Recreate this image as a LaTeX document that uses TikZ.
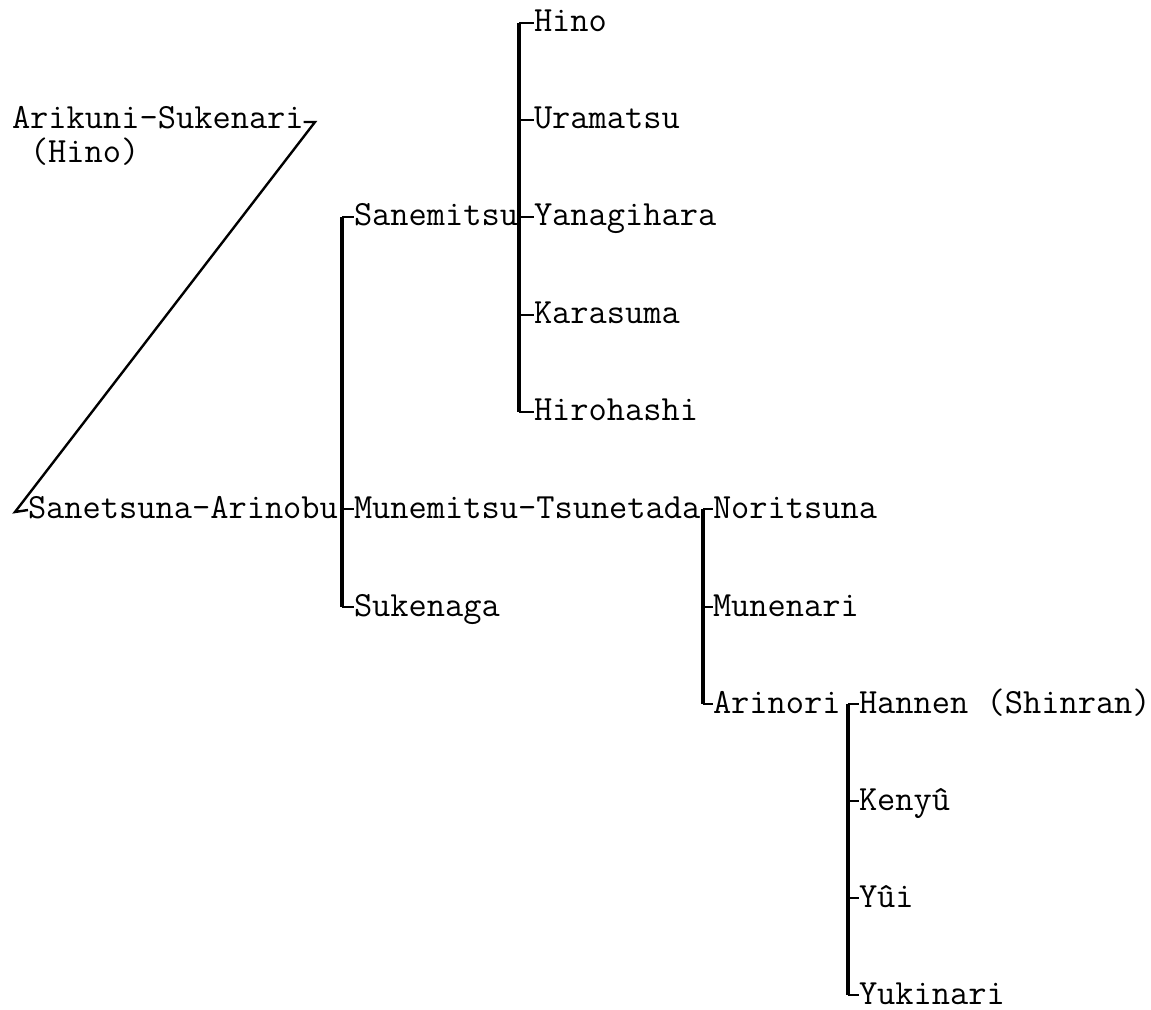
\documentclass[tikz,border=0pt]{standalone}
\usepackage{fontspec}
\begin{document}
\begin{tikzpicture}[x=0.5pt,y=-0.5pt,
  person/.style={anchor=base west,inner sep=0pt,outer sep=0pt,font=\ttfamily\fontsize{17.7}{20}\selectfont},
  bar/.style={line width=1.6pt},
  tick/.style={line width=1pt},
  diag/.style={line width=1.2pt,line join=miter}]
\useasboundingbox (0,0) rectangle (1151,1010);
% rows: 23,120,217,315,412,509,607,704,801,898,995 ; baseline = row+9
\node[person] (arikuni)   at (12,129)  {Arikuni-Sukenari};
\node[person] (hinoA)     at (30,163)  {(Hino)};
\node[person] (sanetsuna) at (28,518)  {Sanetsuna-Arinobu};
% generation A
\node[person] (sanemitsu) at (354,226) {Sanemitsu};
\node[person] (munemitsu) at (354,518) {Munemitsu-Tsunetada};
\node[person] (sukenaga)  at (354,616) {Sukenaga};
% generation B
\node[person] (hino)       at (534,32)  {Hino};
\node[person] (uramatsu)   at (534,129) {Uramatsu};
\node[person] (yanagihara) at (534,226) {Yanagihara};
\node[person] (karasuma)   at (534,324) {Karasuma};
\node[person] (hirohashi)  at (534,421) {Hirohashi};
% generation C
\node[person] (noritsuna) at (713,518) {Noritsuna};
\node[person] (munenari)  at (713,616) {Munenari};
\node[person] (arinori)   at (713,713) {Arinori};
% generation D
\node[person] (hannen)   at (859,713)  {Hannen (Shinran)};
\node[person] (kenyu)    at (859,810)  {Kenyû};
\node[person] (yui)      at (859,907)  {Yûi};
\node[person] (yukinari) at (859,1004) {Yukinari};

% link Arikuni -> Sanetsuna
\coordinate (dtop) at (315,122);
\coordinate (dbot) at (15,512);
\draw[diag] ([shift={(0,-7)}]arikuni.base east) -- (dtop) -- (dbot) -- ([shift={(0,-8)}]sanetsuna.base west);

% bar A (children of Arinobu)
\draw[bar] ([shift={(-12,-9)}]sanemitsu.base west) -- ([shift={(-12,-9)}]sukenaga.base west);
\foreach \n in {sanemitsu,munemitsu,sukenaga}
  \draw[tick] ([shift={(-12,-9)}]\n.base west) -- ([shift={(0,-9)}]\n.base west);
% bar B (children of Sanemitsu)
\draw[bar] ([shift={(-15,-9)}]hino.base west) -- ([shift={(-15,-9)}]hirohashi.base west);
\foreach \n in {hino,uramatsu,yanagihara,karasuma,hirohashi}
  \draw[tick] ([shift={(-15,-9)}]\n.base west) -- ([shift={(0,-9)}]\n.base west);
% bar C (children of Tsunetada)
\draw[bar] ([shift={(-10,-9)}]noritsuna.base west) -- ([shift={(-10,-9)}]arinori.base west);
\foreach \n in {noritsuna,munenari,arinori}
  \draw[tick] ([shift={(-10,-9)}]\n.base west) -- ([shift={(0,-9)}]\n.base west);
% bar D (children of Arinori)
\draw[bar] ([shift={(-11,-9)}]hannen.base west) -- ([shift={(-11,-9)}]yukinari.base west);
\foreach \n in {hannen,kenyu,yui,yukinari}
  \draw[tick] ([shift={(-11,-9)}]\n.base west) -- ([shift={(0,-9)}]\n.base west);
\end{tikzpicture}
\end{document}
